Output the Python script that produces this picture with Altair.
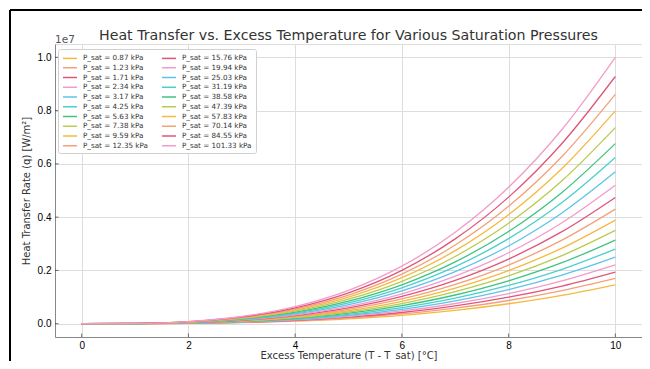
import altair as alt
import pandas as pd

# ---------------- data (values in units of 1e7 W/m²) ----------------
delta_t = [0, 1, 2, 3, 4, 5, 6, 7, 8, 9, 10]

pressure_labels = [
    "P_sat = 0.87 kPa", "P_sat = 1.23 kPa", "P_sat = 1.71 kPa", "P_sat = 2.34 kPa",
    "P_sat = 3.17 kPa", "P_sat = 4.25 kPa", "P_sat = 5.63 kPa", "P_sat = 7.38 kPa",
    "P_sat = 9.59 kPa", "P_sat = 12.35 kPa", "P_sat = 15.76 kPa", "P_sat = 19.94 kPa",
    "P_sat = 25.03 kPa", "P_sat = 31.19 kPa", "P_sat = 38.58 kPa", "P_sat = 47.39 kPa",
    "P_sat = 57.83 kPa", "P_sat = 70.14 kPa", "P_sat = 84.55 kPa", "P_sat = 101.33 kPa",
]

q_0_87 = [0, 0.0001, 0.0012, 0.0039, 0.0093, 0.0183, 0.0315, 0.0501, 0.0748, 0.1064, 0.146]
q_1_23 = [0, 0.0002, 0.0014, 0.0046, 0.0109, 0.0213, 0.0367, 0.0583, 0.0870, 0.1239, 0.170]
q_1_71 = [0, 0.0002, 0.0016, 0.0052, 0.0124, 0.0243, 0.0419, 0.0665, 0.0993, 0.1414, 0.194]
q_2_34 = [0, 0.0002, 0.0018, 0.0060, 0.0141, 0.0276, 0.0477, 0.0758, 0.1132, 0.1611, 0.221]
q_3_17 = [0, 0.0003, 0.0020, 0.0068, 0.0160, 0.0313, 0.0540, 0.0858, 0.1280, 0.1823, 0.250]
q_4_25 = [0, 0.0003, 0.0022, 0.0076, 0.0179, 0.0350, 0.0605, 0.0960, 0.1434, 0.2041, 0.280]
q_5_63 = [0, 0.0003, 0.0025, 0.0085, 0.0201, 0.0393, 0.0678, 0.1077, 0.1608, 0.2289, 0.314]
q_7_38 = [0, 0.0004, 0.0028, 0.0095, 0.0224, 0.0438, 0.0756, 0.1201, 0.1792, 0.2552, 0.350]
q_9_59 = [0, 0.0004, 0.0031, 0.0105, 0.0249, 0.0486, 0.0840, 0.1334, 0.1992, 0.2836, 0.389]
q_12_35 = [0, 0.0004, 0.0034, 0.0116, 0.0275, 0.0538, 0.0929, 0.1475, 0.2202, 0.3135, 0.430]
q_15_76 = [0, 0.0005, 0.0038, 0.0128, 0.0303, 0.0593, 0.1024, 0.1626, 0.2427, 0.3455, 0.474]
q_19_94 = [0, 0.0005, 0.0042, 0.0140, 0.0333, 0.0650, 0.1123, 0.1784, 0.2662, 0.3791, 0.520]
q_25_03 = [0, 0.0006, 0.0046, 0.0154, 0.0365, 0.0713, 0.1231, 0.1955, 0.2918, 0.4155, 0.570]
q_31_19 = [0, 0.0006, 0.0050, 0.0168, 0.0399, 0.0780, 0.1348, 0.2140, 0.3195, 0.4549, 0.624]
q_38_58 = [0, 0.0007, 0.0054, 0.0183, 0.0433, 0.0845, 0.1460, 0.2319, 0.3461, 0.4928, 0.676]
q_47_39 = [0, 0.0007, 0.0059, 0.0199, 0.0471, 0.0920, 0.1590, 0.2524, 0.3768, 0.5365, 0.736]
q_57_83 = [0, 0.0008, 0.0064, 0.0216, 0.0511, 0.0999, 0.1726, 0.2741, 0.4091, 0.5825, 0.799]
q_70_14 = [0, 0.0009, 0.0069, 0.0232, 0.0551, 0.1076, 0.1860, 0.2953, 0.4408, 0.6277, 0.861]
q_84_55 = [0, 0.0009, 0.0074, 0.0251, 0.0594, 0.1160, 0.2004, 0.3183, 0.4751, 0.6765, 0.928]
q_101_33 = [0, 0.0010, 0.0080, 0.0270, 0.0640, 0.1250, 0.2160, 0.3430, 0.5120, 0.7290, 1.000]

series_values = [
    q_0_87, q_1_23, q_1_71, q_2_34, q_3_17, q_4_25, q_5_63, q_7_38, q_9_59, q_12_35,
    q_15_76, q_19_94, q_25_03, q_31_19, q_38_58, q_47_39, q_57_83, q_70_14, q_84_55, q_101_33,
]

palette = ["#F5B941", "#F4A179", "#E0557A", "#F39BC9", "#5EC3EA", "#4DCFCB", "#3DC482", "#BACB4E"]

x_ticks = [0, 2, 4, 6, 8, 10]
y_ticks = [0.0, 0.2, 0.4, 0.6, 0.8, 1.0]

title_text = ["Heat Transfer vs. Excess Temperature for Various Saturation Pressures"]
x_title = "Excess Temperature (T - T_sat) [°C]"
y_title = "Heat Transfer Rate (q) [W/m²]"
offset_label = ["1e7"]

# ---------------- tables ----------------
rows = []
for lab, vals in zip(pressure_labels, series_values):
    for t, q in zip(delta_t, vals):
        rows.append({"series": lab, "dt": t, "q": q})
df = pd.DataFrame(rows)

colors = [palette[i % len(palette)] for i in range(len(pressure_labels))]

W, H = 587, 293
FONT = "DejaVu Sans"
xs = alt.Scale(domain=[-0.5, 10.5], nice=False, zero=False)
ys = alt.Scale(domain=[-0.05, 1.05], nice=False, zero=False)

x_axis = alt.Axis(values=x_ticks, format="d", title=x_title, ticks=False,
                  labelPadding=3, titleY=21.5, titleBaseline="alphabetic", grid=True,
                  titleFontWeight="normal", titleFontSize=10, titleColor="#333333",
                  titleFont=FONT)
y_axis = alt.Axis(values=y_ticks, format=".1f", title=y_title, ticks=False,
                  labelPadding=4, titlePadding=6, grid=True,
                  titleFontWeight="normal", titleFontSize=10, titleColor="#333333",
                  titleFont=FONT)

lines = alt.Chart(df).mark_line(strokeWidth=1.3, interpolate="monotone").encode(
    x=alt.X("dt:Q", scale=xs, axis=x_axis),
    y=alt.Y("q:Q", scale=ys, axis=y_axis),
    color=alt.Color("series:N",
                    scale=alt.Scale(domain=pressure_labels, range=colors),
                    legend=alt.Legend(title=None, orient="none", legendX=3, legendY=5,
                                      columns=2, symbolType="M-1,0L2.5,0", symbolSize=64,
                                      symbolStrokeWidth=1.5, labelFontSize=7.2,
                                      labelFont=FONT, labelColor="#333333",
                                      rowPadding=0.75, columnPadding=11, padding=4,
                                      labelOffset=11,
                                      strokeColor="#d0d0d0", fillColor="#ffffff",
                                      cornerRadius=2)),
)

xt = alt.Chart(pd.DataFrame({"dt": x_ticks})).mark_tick(
    color="#333333", thickness=1, size=3.5).encode(
    x=alt.X("dt:Q", scale=xs, axis=x_axis), y=alt.value(H - 1.75))
yt = alt.Chart(pd.DataFrame({"q": y_ticks})).mark_tick(
    color="#333333", thickness=1, size=3.5).encode(
    y=alt.Y("q:Q", scale=ys, axis=y_axis), x=alt.value(1.75))

offset_txt = alt.Chart(pd.DataFrame({"t": offset_label})).mark_text(
    align="left", baseline="bottom", fontSize=10.5, font=FONT, color="#555555").encode(
    x=alt.value(0), y=alt.value(0.5), text="t:N")

title_txt = alt.Chart(pd.DataFrame({"t": title_text})).mark_text(
    align="center", baseline="alphabetic", fontSize=14.2, font=FONT, color="#333333").encode(
    x=alt.value(W / 2), y=alt.value(-4), text="t:N")

frame_top = alt.Chart(pd.DataFrame({"a": [0]})).mark_rule(color="black", strokeWidth=2).encode(
    x=alt.value(-45), x2=alt.value(W + 20), y=alt.value(-34))
frame_left = alt.Chart(pd.DataFrame({"a": [0]})).mark_rule(color="black", strokeWidth=2).encode(
    x=alt.value(-45), y=alt.value(-34), y2=alt.value(H + 40))

chart = alt.layer(lines, xt, yt, offset_txt, title_txt, frame_top, frame_left).properties(
    width=W, height=H,
    autosize=alt.AutoSizeParams(type="none"),
    padding={"left": 47, "top": 36, "right": 0, "bottom": 24},
).configure_view(stroke="transparent").configure_axis(
    domainColor="#333333", domainWidth=1,
    gridColor="#dcdcdc", gridDash=[2, 2], gridWidth=0.8,
    labelColor="#555555", labelFontSize=10.5, labelFont=FONT,
    titleFontSize=10, titleFontWeight="normal", titleColor="#333333", titleFont=FONT,
).configure(background="white")

chart.save("out.html", embed_options={"renderer": "svg", "actions": False})
